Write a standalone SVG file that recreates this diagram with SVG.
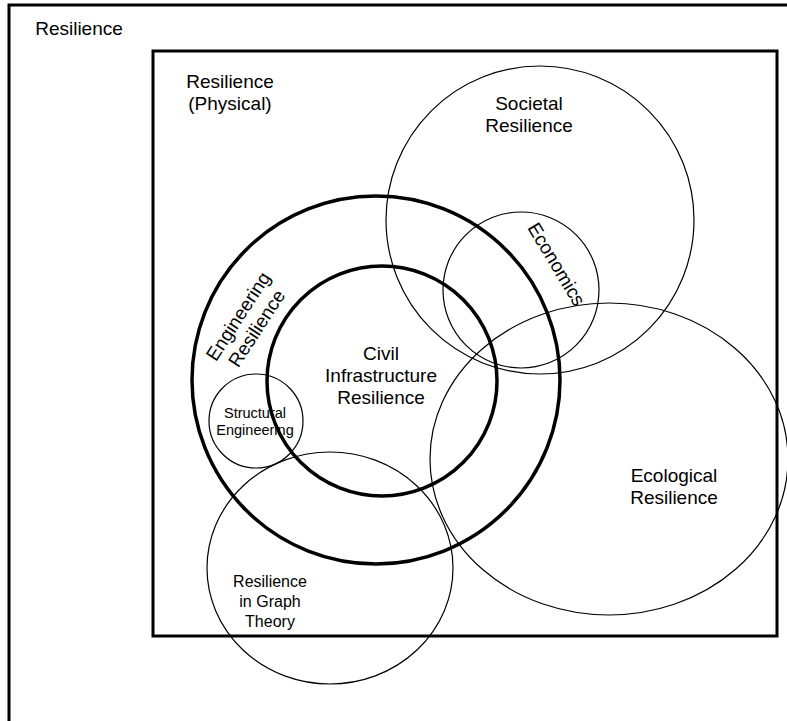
<svg xmlns="http://www.w3.org/2000/svg" width="787" height="721" viewBox="0 0 787 721">
<style>
  text { font-family: "Liberation Sans", Arial, sans-serif; font-size: 19px; fill: #000; text-anchor: middle; }
  .thin { fill: none; stroke: #000; stroke-width: 1.2; }
  .thick { fill: none; stroke: #000; stroke-width: 3.5; }
  .frame { fill: none; stroke: #000; stroke-width: 3; }
</style>
<rect width="787" height="721" fill="#fff"/>
<g id="resilience">
  <rect class="frame" x="9" y="5" width="800" height="740"/>
  <text x="79" y="35">Resilience</text>
</g>
<g id="resilience-physical">
  <rect class="frame" x="153" y="51" width="624" height="585"/>
  <text x="230" y="88">Resilience</text>
  <text x="230" y="110">(Physical)</text>
</g>
<g id="societal">
  <circle class="thin" cx="540" cy="220" r="154"/>
  <text x="529" y="110">Societal</text>
  <text x="529" y="132">Resilience</text>
</g>
<g id="economics">
  <circle class="thin" cx="521" cy="290" r="78"/>
  <text transform="translate(557,264) rotate(59)" x="0" y="7">Economics</text>
</g>
<g id="ecological">
  <ellipse class="thin" cx="609" cy="459" rx="179" ry="156"/>
  <text x="674" y="482">Ecological</text>
  <text x="674" y="504">Resilience</text>
</g>
<g id="engineering">
  <circle class="thick" cx="376" cy="380" r="184"/>
  <text transform="translate(247,322) rotate(-57)" x="0" y="-4">Engineering</text>
  <text transform="translate(247,322) rotate(-57)" x="0" y="18">Resilience</text>
</g>
<g id="civil">
  <circle class="thick" cx="382" cy="381" r="115"/>
  <text x="381" y="360">Civil</text>
  <text x="381" y="382">Infrastructure</text>
  <text x="381" y="404">Resilience</text>
</g>
<g id="structural">
  <circle class="thin" cx="256" cy="421" r="47"/>
  <text x="255" y="418" style="font-size:14.5px">Structural</text>
  <text x="255" y="435" style="font-size:14.5px">Engineering</text>
</g>
<g id="graph-theory">
  <ellipse class="thin" cx="330" cy="568" rx="123" ry="116"/>
  <text x="270" y="587" style="font-size:16px">Resilience</text>
  <text x="270" y="607" style="font-size:16px">in Graph</text>
  <text x="270" y="627" style="font-size:16px">Theory</text>
</g>
</svg>
